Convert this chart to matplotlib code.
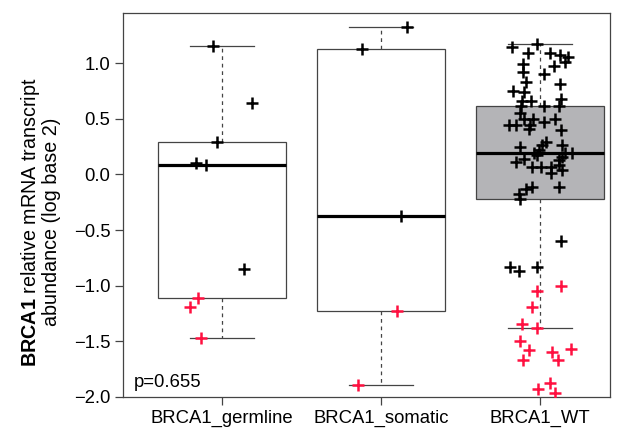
import numpy as np
import matplotlib.pyplot as plt

### data ###

groups = ['BRCA1_germline', 'BRCA1_somatic', 'BRCA1_WT']

germline_vals = [1.15, 0.64, 0.29, 0.10, 0.08, -0.85, -1.11, -1.19, -1.47]
germline_jit = [-0.057, 0.187, -0.033, -0.164, -0.10, 0.138, -0.151, -0.20, -0.132]

somatic_vals = [1.32, 1.13, -0.37, -1.23, -1.89]
somatic_jit = [0.165, -0.118, 0.123, 0.098, -0.142]

wt_vals = [1.14, 1.17, 1.09, 1.09, 1.07, 1.05, 1.01, 0.99, 0.97, 0.92,
           0.90, 0.83, 0.81, 0.75, 0.74, 0.68, 0.66, 0.66, 0.61, 0.61,
           0.61, 0.55, 0.50, 0.50, 0.44, 0.44, 0.44, 0.47, 0.50, 0.40,
           0.41, 0.25, 0.29, 0.26, 0.26, 0.22, 0.19, 0.19, 0.19, 0.14,
           0.11, 0.17, 0.13, 0.16, 0.07, 0.07, 0.07, 0.08, 0.04, 0.01,
           -0.11, -0.11, -0.13, -0.18, -0.22, -0.60, -0.83, -0.87, -0.83,
           -1.00, -1.05, -1.19, -1.34, -1.38, -1.50, -1.58, -1.67, -1.60,
           -1.67, -1.57, -1.87, -1.93, -1.96]
wt_jit = [-0.175, -0.018, -0.077, 0.062, 0.125, 0.177, 0.160, -0.106, 0.087, -0.106,
          0.024, -0.091, 0.125, -0.169, -0.102, 0.129, -0.112, -0.055, 0.024, 0.118,
          -0.118, -0.127, -0.102, -0.043, -0.196, -0.154, -0.060, 0.024, 0.097, 0.129,
          -0.070, -0.127, 0.035, 0.014, 0.140, -0.008, -0.039, 0.160, 0.203, -0.102,
          -0.154, -0.018, 0.118, 0.140, -0.049, 0.003, 0.066, 0.118, 0.140, 0.066,
          0.118, -0.049, -0.091, -0.133, -0.123, 0.129, -0.190, -0.133, -0.018,
          0.135, -0.022, -0.049, -0.112, -0.018, -0.129, -0.070, -0.106, 0.077,
          0.116, 0.192, 0.062, -0.011, 0.097]

low_cut = -0.95   # points below this are drawn in red
p_text = 'p=0.655'

all_vals = [germline_vals, somatic_vals, wt_vals]
all_jit = [germline_jit, somatic_jit, wt_jit]
box_colors = ['white', 'white', '#b4b4b7']

###

plt.rcParams['font.family'] = ['Liberation Sans', 'DejaVu Sans']
plt.rcParams['mathtext.fontset'] = 'custom'
plt.rcParams['mathtext.rm'] = 'Liberation Sans'
plt.rcParams['mathtext.bf'] = 'Liberation Sans:bold'

fig = plt.figure(figsize=(6.38, 4.34), dpi=100)
ax = fig.add_axes([0.1928, 0.0853, 0.7633, 0.8848])

edge = '#444444'
bp = ax.boxplot(all_vals, positions=[1, 2, 3], widths=0.8, showfliers=False,
                patch_artist=True,
                boxprops=dict(edgecolor=edge, linewidth=0.9),
                whiskerprops=dict(color=edge, linewidth=0.9, linestyle=(0, (3, 3))),
                capprops=dict(color=edge, linewidth=0.9),
                medianprops=dict(color='black', linewidth=2.3))
for patch, c in zip(bp['boxes'], box_colors):
    patch.set_facecolor(c)

# jittered points on top
for i, (vals, jit) in enumerate(zip(all_vals, all_jit)):
    vals = np.array(vals)
    xs = i + 1 + np.array(jit)
    low = vals < low_cut
    ax.plot(xs[~low], vals[~low], '+', color='black', ms=9, mew=1.8, zorder=5)
    ax.plot(xs[low], vals[low], '+', color='#ff1040', ms=9, mew=1.8, zorder=5)

ax.set_xlim(0.377, 3.44)
ax.set_ylim(-2.0, 1.45)
ax.set_xticks([1, 2, 3])
ax.set_xticklabels(groups, fontsize=13.3)
ax.set_yticks(np.arange(-2.0, 1.01, 0.5))
ax.yaxis.set_major_formatter(plt.FuncFormatter(lambda v, p: ('%.1f' % v).replace('-', '\u2212')))
ax.tick_params(axis='both', length=6, width=0.9, color=edge, pad=3, labelsize=13.3)
for s in ax.spines.values():
    s.set_color(edge)
    s.set_linewidth(0.9)

ax.set_ylabel(r'$\mathbf{BRCA1}$ relative mRNA transcript' + '\nabundance (log base 2)',
              fontsize=14.2, linespacing=1.0)
ax.yaxis.set_label_coords(-0.128, 0.455)

ax.text(0.023, 0.016, p_text, transform=ax.transAxes, fontsize=13.3,
        ha='left', va='bottom')

plt.savefig('out.png', dpi=100)
